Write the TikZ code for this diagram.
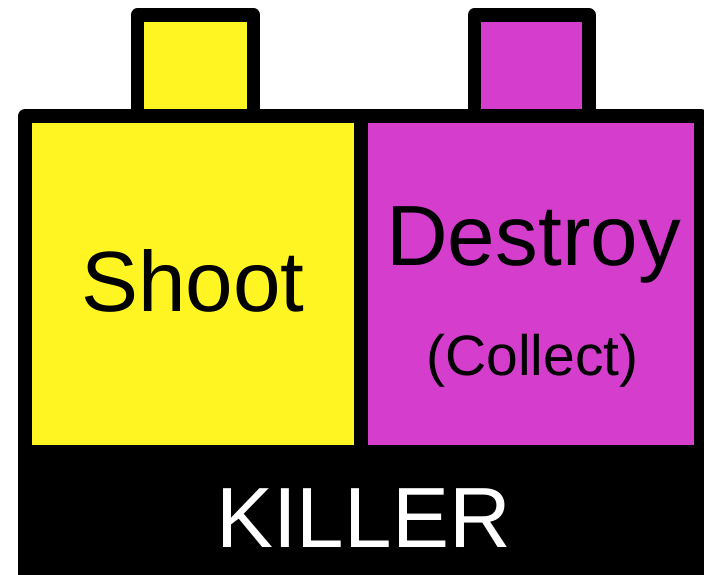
\documentclass[tikz,border=0pt]{standalone}
\usepackage{fontspec}
\setmainfont{Liberation Sans}
\definecolor{shootyellow}{RGB}{255,245,35}
\definecolor{destroymag}{RGB}{213,62,205}
\begin{document}
\begin{tikzpicture}[x=1pt,y=-1pt,
  boxline/.style={draw=black,line width=13.5pt,line join=round},
  bigtext/.style={inner sep=0pt,anchor=base,font=\fontsize{85.5}{86}\selectfont},
  smalltext/.style={inner sep=0pt,anchor=base,font=\fontsize{57}{57}\selectfont}]
\useasboundingbox (0,0) rectangle (704,575);
\begin{scope}
\clip (0,0) rectangle (704,575);
% tabs
\draw[boxline,fill=shootyellow] (137.5,116) -- (137.5,15) -- (253.5,15) -- (253.5,116);
\draw[boxline,fill=destroymag] (474.5,116) -- (474.5,15) -- (589,15) -- (589,116);
% main boxes
\draw[boxline,fill=shootyellow] (25,116) rectangle (361,452);
\draw[boxline,fill=destroymag] (361,116) rectangle (701,452);
% bottom bar
\fill[black] (18,452) rectangle (710,580);
\end{scope}
\node[bigtext] (shoot) at (193,311) {Shoot};
\node[bigtext] (destroy) at (533.5,265) {Destroy};
\node[smalltext] (collect) at (532.5,375) {(Collect)};
\node[bigtext,text=white] (killer) at (363.5,547) {KILLER};
\end{tikzpicture}
\end{document}
